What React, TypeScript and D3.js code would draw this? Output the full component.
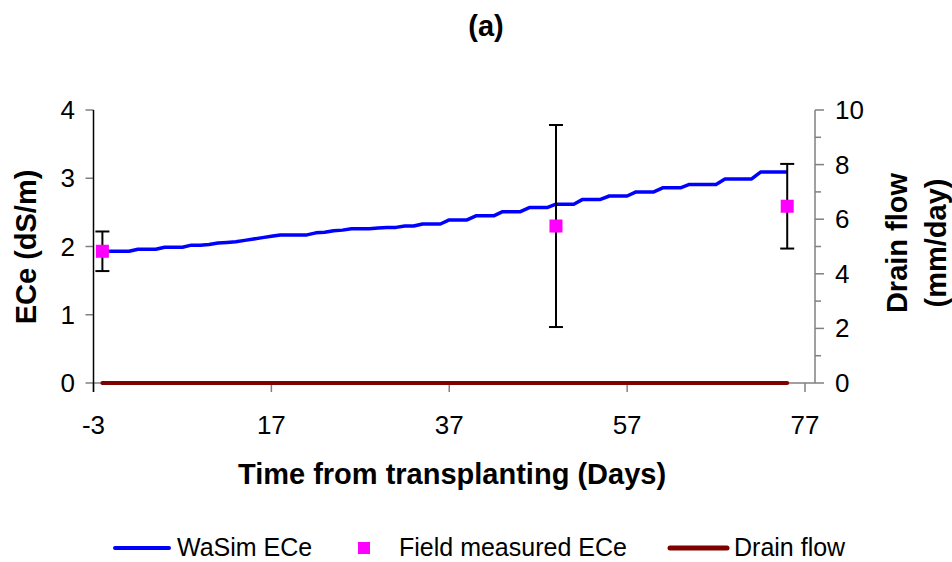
import React from "react";
import * as d3 from "d3";

const days = [-2, -1, 0, 1, 2, 3, 4, 5, 6, 7, 8, 9, 10, 11, 12, 13, 14, 15, 16, 17, 18, 19, 20, 21, 22, 23, 24, 25, 26, 27, 28, 29, 30, 31, 32, 33, 34, 35, 36, 37, 38, 39, 40, 41, 42, 43, 44, 45, 46, 47, 48, 49, 50, 51, 52, 53, 54, 55, 56, 57, 58, 59, 60, 61, 62, 63, 64, 65, 66, 67, 68, 69, 70, 71, 72, 73, 74, 75];
const wasimECe = [1.93, 1.93, 1.93, 1.93, 1.96, 1.96, 1.96, 1.99, 1.99, 1.99, 2.02, 2.02, 2.03, 2.05, 2.06, 2.07, 2.09, 2.11, 2.13, 2.15, 2.17, 2.17, 2.17, 2.17, 2.2, 2.21, 2.23, 2.24, 2.26, 2.26, 2.26, 2.27, 2.28, 2.28, 2.3, 2.3, 2.33, 2.33, 2.33, 2.39, 2.39, 2.39, 2.45, 2.45, 2.45, 2.51, 2.51, 2.51, 2.57, 2.57, 2.57, 2.62, 2.62, 2.62, 2.69, 2.69, 2.69, 2.74, 2.74, 2.74, 2.8, 2.8, 2.8, 2.86, 2.86, 2.86, 2.91, 2.91, 2.91, 2.91, 2.99, 2.99, 2.99, 2.99, 3.09, 3.09, 3.09, 3.09];
const drainFlow = [0, 0, 0, 0, 0, 0, 0, 0, 0, 0, 0, 0, 0, 0, 0, 0, 0, 0, 0, 0, 0, 0, 0, 0, 0, 0, 0, 0, 0, 0, 0, 0, 0, 0, 0, 0, 0, 0, 0, 0, 0, 0, 0, 0, 0, 0, 0, 0, 0, 0, 0, 0, 0, 0, 0, 0, 0, 0, 0, 0, 0, 0, 0, 0, 0, 0, 0, 0, 0, 0, 0, 0, 0, 0, 0, 0, 0, 0];
const fieldDays = [-2, 49, 75];
const fieldECe = [1.93, 2.3, 2.59];
const fieldErr = [0.29, 1.48, 0.62];

const xTicks = [-3, 17, 37, 57, 77];
const yLeftTicks = [0, 1, 2, 3, 4];
const yRightTicks = [0, 2, 4, 6, 8, 10];
const yRightMinor = [1, 3, 5, 7, 9];

const FONT = "'Liberation Sans', Arial, sans-serif";

export default function App() {
  const x = d3.scaleLinear().domain([-3, 77]).range([93.5, 805]);
  const yL = d3.scaleLinear().domain([0, 4]).range([383, 110]);
  const yR = d3.scaleLinear().domain([0, 10]).range([383, 110]);
  const plotLeft = 93.5;
  const plotRight = 815;

  const ecLine = d3
    .line<number>()
    .x((_, i) => x(days[i]))
    .y((d) => yL(d));
  const drainLine = d3
    .line<number>()
    .x((_, i) => x(days[i]))
    .y((d) => yR(d));

  const gray = "#808080";

  return (
    <svg
      width={952}
      height={562}
      style={{ position: "absolute", left: 0, top: 0, background: "#fff" }}
      fontFamily={FONT}
    >
      <rect width={952} height={562} fill="#fff" />
      {/* title */}
      <text x={486} y={36} textAnchor="middle" fontSize={29} fontWeight="bold">
        (a)
      </text>

      {/* x axis */}
      <line x1={plotLeft} x2={plotRight} y1={yL(0)} y2={yL(0)} stroke={gray} strokeWidth={1.5} />
      {xTicks.map((t) => (
        <g key={"xt" + t}>
          <line x1={x(t)} x2={x(t)} y1={yL(0)} y2={yL(0) + 9} stroke={gray} strokeWidth={1.5} />
          <text x={x(t)} y={434} textAnchor="middle" fontSize={26}>
            {t}
          </text>
        </g>
      ))}

      {/* left axis */}
      {yLeftTicks.map((t) => (
        <g key={"yl" + t}>
          <line x1={plotLeft - 8} x2={plotLeft} y1={yL(t)} y2={yL(t)} stroke={gray} strokeWidth={1.5} />
          <text x={75} y={yL(t) + 9} textAnchor="end" fontSize={26}>
            {t}
          </text>
        </g>
      ))}
      <line x1={plotLeft} x2={plotLeft} y1={yL(4)} y2={yL(0) + 9} stroke="#000" strokeWidth={1.5} />

      {/* right axis */}
      <line x1={plotRight} x2={plotRight} y1={yR(10)} y2={yR(0)} stroke={gray} strokeWidth={1.5} />
      {yRightMinor.map((t) => (
        <line key={"ym" + t} x1={plotRight} x2={plotRight + 6} y1={yR(t)} y2={yR(t)} stroke={gray} strokeWidth={1.5} />
      ))}
      {yRightTicks.map((t) => (
        <g key={"yr" + t}>
          <line x1={plotRight} x2={plotRight + 9} y1={yR(t)} y2={yR(t)} stroke={gray} strokeWidth={1.5} />
          <text x={835} y={yR(t) + 9} textAnchor="start" fontSize={26}>
            {t}
          </text>
        </g>
      ))}

      {/* axis titles */}
      <text
        transform={`translate(26,247) rotate(-90)`}
        textAnchor="middle"
        dy="0.35em"
        fontSize={29}
        fontWeight="bold"
      >
        ECe (dS/m)
      </text>
      <text
        transform={`translate(897,243) rotate(-90)`}
        textAnchor="middle"
        dy="0.35em"
        fontSize={29}
        fontWeight="bold"
      >
        Drain flow
      </text>
      <text
        transform={`translate(936,243) rotate(-90)`}
        textAnchor="middle"
        dy="0.35em"
        fontSize={29}
        fontWeight="bold"
      >
        (mm/day)
      </text>
      <text x={452} y={484} textAnchor="middle" fontSize={29} fontWeight="bold">
        Time from transplanting (Days)
      </text>

      {/* series */}
      <path d={drainLine(drainFlow) || ""} fill="none" stroke="#800000" strokeWidth={4} strokeLinecap="round" />
      <path d={ecLine(wasimECe) || ""} fill="none" stroke="#0000ff" strokeWidth={3.5} strokeLinejoin="round" />

      {fieldDays.map((d, i) => {
        const cx = x(d);
        const top = yL(fieldECe[i] + fieldErr[i]);
        const bot = yL(fieldECe[i] - fieldErr[i]);
        return (
          <g key={"f" + i}>
            <line x1={cx} x2={cx} y1={top} y2={bot} stroke="#000" strokeWidth={2} />
            <line x1={cx - 7} x2={cx + 7} y1={top} y2={top} stroke="#000" strokeWidth={2} />
            <line x1={cx - 7} x2={cx + 7} y1={bot} y2={bot} stroke="#000" strokeWidth={2} />
            <rect x={cx - 6.5} y={yL(fieldECe[i]) - 6.5} width={13} height={13} fill="#ff00ff" />
          </g>
        );
      })}

      {/* legend */}
      <line x1={115} x2={169} y1={548} y2={548} stroke="#0000ff" strokeWidth={4} strokeLinecap="round" />
      <text x={177} y={556} fontSize={25}>WaSim ECe</text>
      <rect x={358} y={542} width={12} height={12} fill="#ff00ff" />
      <text x={399} y={556} fontSize={25}>Field measured ECe</text>
      <line x1={670} x2={727} y1={548} y2={548} stroke="#800000" strokeWidth={5} strokeLinecap="round" />
      <text x={734} y={556} fontSize={25}>Drain flow</text>
    </svg>
  );
}
